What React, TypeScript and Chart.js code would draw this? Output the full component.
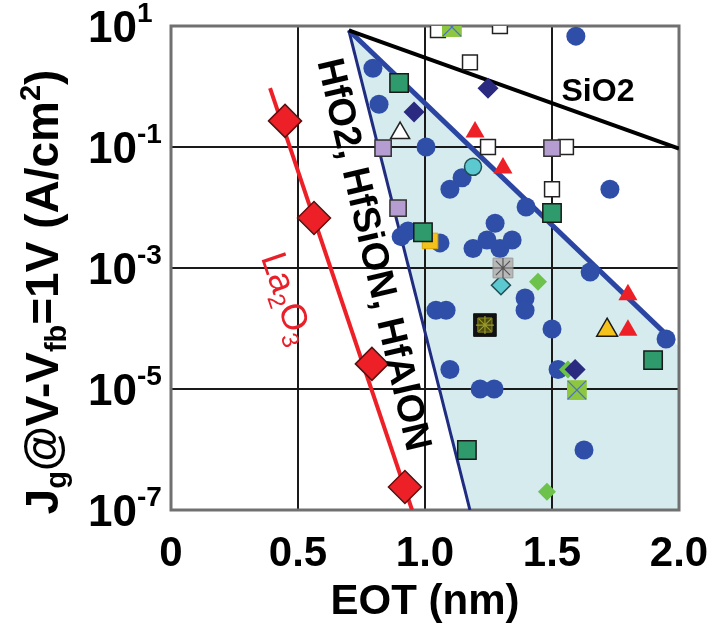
import { useEffect, useRef } from 'react';
import { Chart, registerables } from 'chart.js';
Chart.register(...registerables);

const FONT = '"Liberation Sans", Arial, Helvetica, sans-serif';

// ---- axes / ticks ----
const xTicks = [0, 0.5, 1.0, 1.5, 2.0];
const xTickLabels = ['0', '0.5', '1.0', '1.5', '2.0'];
const yTicks = [1e1, 1e-1, 1e-3, 1e-5, 1e-7];
const yTickExponents = ['1', '-1', '-3', '-5', '-7'];

// ---- trend lines ----
const sio2Line = [{ x: 0.70, y: 8.5 }, { x: 2.0, y: 0.094 }];
const highKUpper = [{ x: 0.70, y: 8.5 }, { x: 1.98, y: 6.0e-5 }];
const highKLower = [{ x: 0.70, y: 8.5 }, { x: 1.177, y: 1e-7 }];
const bandUpper = [{ x: 0.70, y: 8.5 }, { x: 1.98, y: 6.0e-5 }, { x: 2.0, y: 5.0e-5 }];
const bandLower = [{ x: 0.70, y: 8.5 }, { x: 1.177, y: 1e-7 }, { x: 2.0, y: 1e-7 }];
const la2o3Line = [{ x: 0.39, y: 0.94 }, { x: 0.949, y: 1e-7 }];

// ---- data points ----
const la2o3Points = [
  { x: 0.449, y: 0.27 }, { x: 0.563, y: 6.7e-3 }, { x: 0.791, y: 2.6e-5 }, { x: 0.921, y: 2.4e-7 },
];
const blueCircles = [
  { x: 0.795, y: 2.0 }, { x: 0.819, y: 0.51 }, { x: 1.004, y: 0.1 }, { x: 1.594, y: 6.8 },
  { x: 1.146, y: 0.031 }, { x: 1.098, y: 0.020 }, { x: 1.276, y: 5.5e-3 }, { x: 1.398, y: 0.0102 },
  { x: 1.728, y: 0.020 }, { x: 1.244, y: 2.9e-3 }, { x: 1.189, y: 2.1e-3 }, { x: 1.295, y: 2.1e-3 },
  { x: 1.343, y: 2.9e-3 }, { x: 0.906, y: 3.3e-3 }, { x: 0.933, y: 4.1e-3 }, { x: 1.059, y: 2.6e-3 },
  { x: 1.650, y: 8.6e-4 }, { x: 1.394, y: 3.2e-4 }, { x: 1.394, y: 2.0e-4 }, { x: 1.043, y: 2.0e-4 },
  { x: 1.083, y: 2.0e-4 }, { x: 1.500, y: 9.8e-5 }, { x: 1.098, y: 2.1e-5 }, { x: 1.524, y: 2.1e-5 },
  { x: 1.217, y: 1.0e-5 }, { x: 1.272, y: 1.0e-5 }, { x: 1.949, y: 6.7e-5 }, { x: 1.626, y: 9.8e-7 },
];
const whiteSquares = [
  { x: 1.051, y: 8.6 }, { x: 1.295, y: 10 }, { x: 1.177, y: 2.5 }, { x: 1.248, y: 0.1 },
  { x: 1.555, y: 0.1 }, { x: 1.500, y: 0.02 },
];
const greenCrossSquares = [{ x: 1.106, y: 9.6 }, { x: 1.598, y: 9.6e-6 }];
const darkGreenSquares = [
  { x: 0.898, y: 1.14 }, { x: 0.992, y: 3.9e-3 }, { x: 1.500, y: 8.1e-3 }, { x: 1.898, y: 3.0e-5 },
  { x: 1.165, y: 9.8e-7 },
];
const yellowSquares = [{ x: 1.02, y: 2.8e-3 }];
const purpleSquares = [{ x: 0.835, y: 0.096 }, { x: 1.500, y: 0.096 }, { x: 0.894, y: 9.8e-3 }];
const navyDiamonds = [{ x: 0.957, y: 0.38 }, { x: 1.248, y: 0.94 }, { x: 1.591, y: 2.1e-5 }];
const limeDiamonds = [{ x: 1.445, y: 5.9e-4 }, { x: 1.480, y: 2.0e-7 }, { x: 1.563, y: 2.1e-5 }];
const whiteTriangles = [{ x: 0.902, y: 0.17 }];
const redTriangles = [
  { x: 1.197, y: 0.177 }, { x: 1.307, y: 0.045 }, { x: 1.799, y: 3.6e-4 }, { x: 1.799, y: 9.4e-5 },
];
const yellowTriangles = [{ x: 1.717, y: 9.4e-5 }];
const cyanCircles = [{ x: 1.189, y: 0.047 }];
const cyanDiamonds = [{ x: 1.299, y: 5.2e-4 }];
const grayStarSquares = [{ x: 1.307, y: 1.0e-3 }];
const blackStarSquares = [{ x: 1.236, y: 1.14e-4 }];

// ---- annotation anchors (data coords) ----
const sio2LabelAt = { x: 1.681, y: 0.81 };
const highKLabelAt = { x: 0.807, y: 1.7e-3 };
const la2o3LabelAt = { x: 0.462, y: 3.2e-4 };

type Part = { t: string; size: number; dy: number };

function drawParts(ctx: CanvasRenderingContext2D, parts: Part[], x: number, y: number, align: string, weight: string) {
  const widths = parts.map((p) => {
    ctx.font = `${weight} ${p.size}px ${FONT}`;
    return ctx.measureText(p.t).width;
  });
  const total = widths.reduce((a, b) => a + b, 0);
  let cx = align === 'left' ? x : align === 'center' ? x - total / 2 : x - total;
  ctx.textAlign = 'left';
  ctx.textBaseline = 'alphabetic';
  parts.forEach((p, i) => {
    ctx.font = `${weight} ${p.size}px ${FONT}`;
    ctx.fillText(p.t, cx, y + p.dy);
    cx += widths[i];
  });
}

const framePlugin = {
  id: 'frame',
  beforeDatasetsDraw(chart: any) {
    const { ctx, chartArea: a } = chart;
    ctx.save();
    ctx.strokeStyle = '#707070';
    ctx.lineWidth = 3;
    ctx.strokeRect(a.left, a.top, a.right - a.left, a.bottom - a.top);
    ctx.restore();
  },
};

const textPlugin = {
  id: 'texts',
  afterDraw(chart: any) {
    const { ctx, chartArea: a } = chart;
    const xs = chart.scales.x;
    const ys = chart.scales.y;
    ctx.save();
    ctx.fillStyle = '#000';

    // x tick labels
    ctx.font = `bold 42px ${FONT}`;
    ctx.textAlign = 'center';
    ctx.textBaseline = 'alphabetic';
    xTicks.forEach((v, i) => {
      ctx.fillText(xTickLabels[i], xs.getPixelForValue(v), a.bottom + 56);
    });
    // x title
    ctx.fillText('EOT (nm)', (a.left + a.right) / 2, a.bottom + 104);

    // y tick labels
    yTicks.forEach((v, i) => {
      const py = ys.getPixelForValue(v);
      drawParts(ctx, [
        { t: '10', size: 44, dy: 0 },
        { t: yTickExponents[i], size: 28, dy: -20 },
      ], a.left - 83, py + 16, 'left', 'bold');
    });

    // y title
    ctx.save();
    ctx.translate(a.left - 113, (a.top + a.bottom) / 2 + 24);
    ctx.rotate(-Math.PI / 2);
    drawParts(ctx, [
      { t: 'J', size: 46, dy: 0 },
      { t: 'g', size: 29, dy: 8 },
      { t: '@V-V', size: 46, dy: 0 },
      { t: 'fb', size: 29, dy: 8 },
      { t: '=1V (A/cm', size: 46, dy: 0 },
      { t: '2', size: 29, dy: -18 },
      { t: ')', size: 46, dy: 0 },
    ], 0, 0, 'center', 'bold');
    ctx.restore();

    // SiO2 label
    ctx.font = `bold 32px ${FONT}`;
    ctx.textAlign = 'center';
    ctx.textBaseline = 'middle';
    ctx.fillText('SiO2', xs.getPixelForValue(sio2LabelAt.x), ys.getPixelForValue(sio2LabelAt.y));

    // high-k label
    ctx.save();
    ctx.translate(xs.getPixelForValue(highKLabelAt.x), ys.getPixelForValue(highKLabelAt.y));
    ctx.rotate((77 * Math.PI) / 180);
    drawParts(ctx, [{ t: 'HfO2, HfSiON, HfAlON', size: 38, dy: 0 }], 0, 14, 'center', 'bold');
    ctx.restore();

    // La2O3 label
    ctx.save();
    ctx.fillStyle = '#e8202a';
    ctx.translate(xs.getPixelForValue(la2o3LabelAt.x), ys.getPixelForValue(la2o3LabelAt.y));
    ctx.rotate((71 * Math.PI) / 180);
    drawParts(ctx, [
      { t: 'La', size: 36, dy: 0 },
      { t: '2', size: 24, dy: 7 },
      { t: 'O', size: 36, dy: 0 },
      { t: '3', size: 24, dy: 7 },
    ], 0, 13, 'center', 'normal');
    ctx.restore();

    ctx.restore();
  },
};

function lineDs(data: any[], color: string, width: number, order: number, extra: any = {}) {
  return {
    type: 'line', data, borderColor: color, borderWidth: width, pointRadius: 0, pointHoverRadius: 0,
    fill: false, tension: 0, order, ...extra,
  };
}

function markerDs(data: any[], style: string, radius: number, bg: string, border: string, bw: number, order: number) {
  return {
    type: 'scatter', data, pointStyle: style, pointRadius: radius, pointHoverRadius: radius,
    backgroundColor: bg, borderColor: border, borderWidth: bw, order,
  };
}

export default function App() {
  const ref = useRef<HTMLCanvasElement>(null);
  useEffect(() => {
    if (!ref.current) return;
    const datasets: any[] = [
      // shaded band (filled between upper and lower boundaries)
      lineDs(bandUpper, 'rgba(0,0,0,0)', 1, 900, { fill: '+1', backgroundColor: '#d5ebee' }),
      lineDs(bandLower, 'rgba(0,0,0,0)', 1, 900),
      // trend lines
      lineDs(sio2Line, '#000000', 4, 600),
      lineDs(highKUpper, '#2b45a3', 5, 600),
      lineDs(highKLower, '#1f2c80', 3, 600),
      lineDs(la2o3Line, '#ee2027', 4, 600),
      // markers
      markerDs(blueCircles, 'circle', 9.5, '#2f4ea8', '#2f4ea8', 0, 500),
      markerDs(whiteSquares, 'rect', 10.5, '#ffffff', '#222222', 1.5, 450),
      markerDs(yellowSquares, 'rect', 11, '#f5c21b', '#d9a400', 1, 440),
      markerDs(limeDiamonds, 'rectRot', 9, '#6cc24a', '#6cc24a', 0, 430),
      markerDs(purpleSquares, 'rect', 11.5, '#b59dd2', '#333333', 1.5, 400),
      markerDs(darkGreenSquares, 'rect', 13, '#2f9a6c', '#1a1a1a', 1.5, 400),
      markerDs(navyDiamonds, 'rectRot', 10.5, '#2a2a80', '#2a2a80', 0, 390),
      markerDs(whiteTriangles, 'triangle', 11, '#ffffff', '#222222', 1.5, 380),
      markerDs(redTriangles, 'triangle', 11, '#ee2027', '#ee2027', 0, 380),
      markerDs(yellowTriangles, 'triangle', 12, '#f5c21b', '#1a1a1a', 1.5, 380),
      markerDs(cyanCircles, 'circle', 8.5, '#5cc8d0', '#1f4f55', 1.5, 380),
      markerDs(cyanDiamonds, 'rectRot', 9.5, '#5cc8d0', '#1f4f55', 1.5, 380),
      markerDs(greenCrossSquares, 'rect', 14, '#8dc63f', '#8dc63f', 0, 370),
      markerDs(greenCrossSquares, 'crossRot', 13, '#4a73c0', '#4a73c0', 1.2, 360),
      markerDs(grayStarSquares, 'rect', 14, '#b8b8b8', '#999999', 1, 370),
      markerDs(grayStarSquares, 'star', 10, '#555555', '#555555', 1.2, 360),
      markerDs(blackStarSquares, 'rect', 16, '#111111', '#111111', 1, 370),
      markerDs(blackStarSquares, 'rect', 10, '#4a4a10', '#8a8a20', 1, 365),
      markerDs(blackStarSquares, 'star', 9, '#9a9a28', '#9a9a28', 1.2, 360),
      markerDs(la2o3Points, 'rectRot', 16.5, '#ee2027', '#5a1010', 1.5, 100),
    ];
    const chart = new Chart(ref.current, {
      type: 'scatter',
      data: { datasets },
      options: {
        animation: false,
        responsive: false,
        devicePixelRatio: 1,
        layout: { padding: { left: 171, right: 29, top: 26, bottom: 127 } },
        plugins: {
          legend: { display: false },
          tooltip: { enabled: false },
          filler: { drawTime: 'beforeDraw' },
        },
        scales: {
          x: {
            type: 'linear', min: 0, max: 2,
            ticks: { display: false, stepSize: 0.5 },
            grid: { color: '#1a1a1a', lineWidth: 2, drawTicks: false },
            border: { display: false },
          },
          y: {
            type: 'logarithmic', min: 1e-7, max: 1e1,
            ticks: { display: false },
            afterBuildTicks: (s: any) => { s.ticks = yTicks.map((v) => ({ value: v })); },
            grid: { color: '#1a1a1a', lineWidth: 2, drawTicks: false },
            border: { display: false },
          },
        },
      } as any,
      plugins: [framePlugin, textPlugin],
    } as any);
    return () => chart.destroy();
  }, []);
  return (
    <div style={{ position: 'fixed', left: 0, top: 0, width: 708, height: 637, background: '#fff' }}>
      <canvas ref={ref} width={708} height={637} />
    </div>
  );
}
